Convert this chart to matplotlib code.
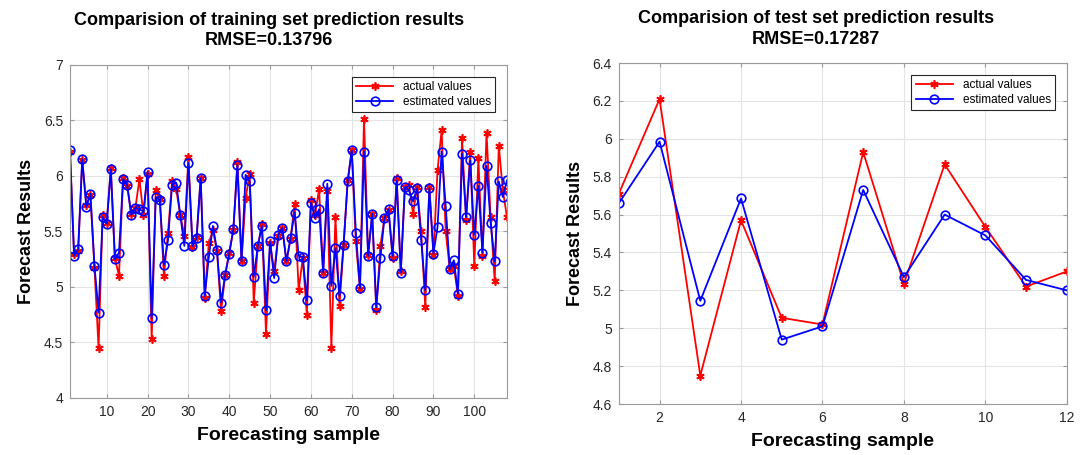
import matplotlib
matplotlib.use("Agg")
import matplotlib.pyplot as plt
from matplotlib.ticker import FuncFormatter

plt.rcParams['font.family'] = ['Liberation Sans', 'DejaVu Sans']

# training set (108 samples)
train_actual = [
    6.22, 5.30, 5.32, 6.14, 5.74, 5.83, 5.17, 4.45, 5.65, 5.58,
    6.07, 5.26, 5.10, 5.98, 5.91, 5.66, 5.71, 5.97, 5.65, 6.02,
    4.53, 5.87, 5.79, 5.10, 5.49, 5.95, 5.88, 5.65, 5.46, 6.17,
    5.36, 5.45, 5.98, 4.90, 5.40, 5.51, 5.32, 4.78, 5.11, 5.31,
    5.51, 6.13, 5.23, 5.80, 6.02, 4.86, 5.37, 5.57, 4.58, 5.40,
    5.14, 5.46, 5.53, 5.23, 5.43, 5.75, 4.97, 5.26, 4.75, 5.78,
    5.65, 5.88, 5.13, 5.86, 4.45, 5.63, 4.83, 5.38, 5.96, 6.23,
    5.41, 4.98, 6.51, 5.29, 5.66, 4.79, 5.37, 5.62, 5.69, 5.26,
    5.98, 5.14, 5.90, 5.92, 5.66, 5.90, 5.50, 4.82, 5.90, 5.29,
    6.05, 6.41, 5.50, 5.16, 5.19, 4.92, 6.34, 5.60, 6.22, 5.19,
    6.16, 5.28, 6.39, 5.63, 5.05, 6.27, 5.87, 5.63,
]
train_pred = [
    6.23, 5.28, 5.34, 6.15, 5.72, 5.84, 5.19, 4.77, 5.63, 5.57,
    6.06, 5.25, 5.31, 5.97, 5.92, 5.65, 5.71, 5.70, 5.68, 6.04,
    4.72, 5.81, 5.78, 5.20, 5.42, 5.92, 5.94, 5.65, 5.37, 6.12,
    5.37, 5.44, 5.98, 4.92, 5.27, 5.55, 5.33, 4.86, 5.11, 5.30,
    5.52, 6.10, 5.23, 6.01, 5.95, 5.09, 5.37, 5.55, 4.79, 5.41,
    5.08, 5.47, 5.53, 5.23, 5.44, 5.67, 5.28, 5.27, 4.88, 5.76,
    5.62, 5.70, 5.13, 5.93, 5.01, 5.35, 4.92, 5.38, 5.95, 6.23,
    5.49, 4.99, 6.22, 5.28, 5.66, 4.82, 5.26, 5.62, 5.70, 5.28,
    5.96, 5.13, 5.90, 5.87, 5.77, 5.89, 5.42, 4.97, 5.89, 5.30,
    5.54, 6.22, 5.73, 5.16, 5.24, 4.94, 6.20, 5.63, 6.14, 5.47,
    5.91, 5.31, 6.09, 5.58, 5.23, 5.95, 5.81, 5.96,
]

# test set (12 samples)
test_actual = [5.71, 6.21, 4.75, 5.57, 5.055, 5.02, 5.93, 5.235, 5.865, 5.535, 5.22, 5.30]
test_pred = [5.66, 5.985, 5.145, 5.685, 4.94, 5.01, 5.73, 5.27, 5.60, 5.49, 5.255, 5.20]

train_rmse = "0.13796"
test_rmse = "0.17287"

fig = plt.figure(figsize=(10.8, 4.55), dpi=100)
ax1 = fig.add_axes([0.0648, 0.1253, 0.4046, 0.732])
ax2 = fig.add_axes([0.573, 0.112, 0.4148, 0.7495])

def style_panel(ax, actual, pred, title, title_x):
    x = range(1, len(actual) + 1)
    # MATLAB-style asterisk marker (6 line arms)
    ax.plot(x, actual, color='#ff0000', marker=(6, 2, 0), markersize=6,
            markeredgewidth=1.2, linewidth=1.3, label='actual values')
    ax.plot(x, pred, color='#0000ff', marker='o', markersize=6.2, markerfacecolor='none',
            markeredgewidth=1.2, linewidth=1.3, label='estimated values')
    ax.set_xlim(1, len(actual))
    ax.grid(True, color='#e3e3e3', linewidth=0.8)
    ax.set_axisbelow(True)
    for s in ax.spines.values():
        s.set_color('#9a9a9a')
        s.set_linewidth(0.8)
    ax.tick_params(labelsize=10, length=3, direction='in',
                   top=True, right=True, pad=5, colors='#9a9a9a', labelcolor='#262626')
    ax.set_title(title, fontsize=13, fontweight='bold', pad=14, linespacing=1.3, x=title_x)
    ax.set_xlabel('Forecasting sample', fontsize=14, fontweight='bold', labelpad=6)
    ax.set_ylabel('Forecast Results', fontsize=13, fontweight='bold', labelpad=6)
    leg = ax.legend(loc='upper right', fontsize=8.5, fancybox=False, framealpha=1,
                    edgecolor='#262626', borderaxespad=1.0, handlelength=3.2,
                    borderpad=0.35, labelspacing=0.25)
    leg.get_frame().set_linewidth(0.8)

style_panel(ax1, train_actual, train_pred,
            'Comparision of training set prediction results\nRMSE=' + train_rmse, 0.455)
ax1.set_ylim(4, 7)
ax1.set_xticks(range(10, 101, 10))
ax1.set_yticks([4, 4.5, 5, 5.5, 6, 6.5, 7])
ax1.yaxis.set_major_formatter(FuncFormatter(lambda v, p: f"{v:g}"))

style_panel(ax2, test_actual, test_pred,
            'Comparision of test set prediction results\nRMSE=' + test_rmse, 0.44)
ax2.set_ylim(4.6, 6.4)
ax2.set_xticks(range(2, 13, 2))
ax2.set_yticks([4.6, 4.8, 5.0, 5.2, 5.4, 5.6, 5.8, 6.0, 6.2, 6.4])
ax2.yaxis.set_major_formatter(FuncFormatter(lambda v, p: f"{round(v, 1):g}"))

fig.savefig('out.png', dpi=100)
